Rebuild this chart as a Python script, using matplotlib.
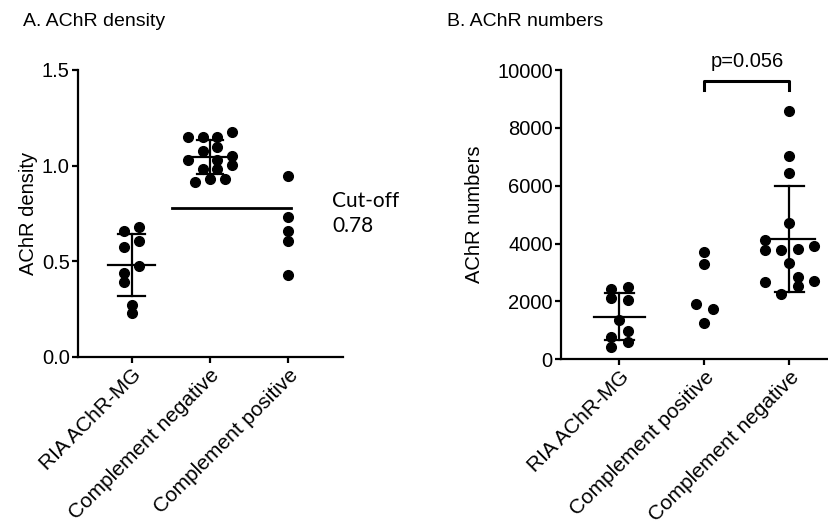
import matplotlib.pyplot as plt
import numpy as np

plt.rcParams['font.family'] = ['Liberation Sans', 'DejaVu Sans']

# panel A: AChR density
density_labels = ["RIA AChR-MG", "Complement negative", "Complement positive"]
density_ria = [0.659, 0.681, 0.577, 0.608, 0.441, 0.476, 0.391, 0.272, 0.228]
density_ria_col = [-1, 1, -1, 1, -1, 1, -1, 0, 0]
density_neg = [1.152, 1.152, 1.152, 1.178, 1.078, 1.099, 1.030, 1.030, 1.051,
               0.981, 0.981, 1.004, 0.913, 0.929, 0.929]
density_neg_col = [-3, -1, 1, 3, -1, 1, -3, 1, 3, -1, 1, 3, -2, 0, 2]
density_pos = [0.948, 0.730, 0.659, 0.608, 0.429]
density_pos_col = [0, 0, 0, 0, 0]
cutoff = 0.78

# panel B: AChR numbers
numbers_labels = ["RIA AChR-MG", "Complement positive", "Complement negative"]
numbers_ria = [2422, 2491, 2111, 2052, 1360, 990, 761, 609, 415]
numbers_ria_col = [-1, 1, -1, 1, 0, 1, -1, 1, -1]
numbers_pos = [3723, 3298, 1913, 1730, 1266]
numbers_pos_col = [0, 0, -1, 1, 0]
numbers_neg = [8568, 7011, 6457, 4727, 4128, 3782, 3782, 3806, 3931, 3322,
               2664, 2837, 2536, 2709, 2260]
numbers_neg_col = [0, 0, 0, 0, -3, -3, -1, 1, 3, 0, -3, 1, 1, 3, -1]

step = 0.095
fs = 14.5

fig = plt.figure(figsize=(8.29, 5.28), dpi=100)
ax1 = fig.add_axes([0.0941, 0.3239, 0.3197, 0.5436])
ax2 = fig.add_axes([0.6767, 0.3195, 0.3300, 0.5479])


def scatter_group(ax, pos, vals, cols, sd=True):
    xs = pos + np.array(cols) * step
    ax.plot(xs, vals, 'o', color='black', ms=7, clip_on=False, zorder=3)
    if sd:
        m = np.mean(vals)
        s = np.std(vals, ddof=1)
        ax.plot([pos - 0.3, pos + 0.3], [m, m], color='black', lw=1.6)
        ax.plot([pos, pos], [m - s, m + s], color='black', lw=1.6)
        for y in (m - s, m + s):
            ax.plot([pos - 0.17, pos + 0.17], [y, y], color='black', lw=1.6)


def style(ax, labels):
    for s in ('top', 'right'):
        ax.spines[s].set_visible(False)
    for s in ('left', 'bottom'):
        ax.spines[s].set_linewidth(1.6)
    ax.tick_params(direction='out', length=4, width=1.6, labelsize=fs, pad=2)
    ax.set_xticks([1, 2, 3])
    ax.set_xticklabels(labels, rotation=45, ha='right', rotation_mode='anchor',
                       fontsize=15)


scatter_group(ax1, 1, density_ria, density_ria_col)
scatter_group(ax1, 2, density_neg, density_neg_col)
scatter_group(ax1, 3, density_pos, density_pos_col, sd=False)
ax1.plot([1.52, 3.03], [cutoff, cutoff], color='black', lw=2)
ax1.set_xlim(0.314, 3.70)
ax1.set_ylim(0, 1.5)
ax1.set_yticks([0, 0.5, 1.0, 1.5])
ax1.set_yticklabels(['0.0', '0.5', '1.0', '1.5'])
style(ax1, density_labels)
ax1.set_ylabel("AChR density", fontsize=fs)
ax1.yaxis.set_label_coords(-0.15, 0.5)
ax1.text(3.56, 0.75, "Cut-off\n%.2f" % cutoff, fontsize=15, family='Lato',
         va='center', ha='left', linespacing=1.3)

scatter_group(ax2, 1, numbers_ria, numbers_ria_col)
scatter_group(ax2, 2, numbers_pos, numbers_pos_col, sd=False)
scatter_group(ax2, 3, numbers_neg, numbers_neg_col)
ax2.set_xlim(0.312, 3.53)
ax2.set_ylim(0, 10000)
ax2.set_yticks([0, 2000, 4000, 6000, 8000, 10000])
style(ax2, numbers_labels)
ax2.set_ylabel("AChR numbers", fontsize=fs)
ax2.yaxis.set_label_coords(-0.283, 0.5)
ax2.plot([2, 2, 3, 3], [9294, 9609, 9609, 9294], color='black', lw=2.2, clip_on=False)
ax2.text(2.5, 9950, "p=0.056", fontsize=fs, ha='center', va='bottom')

fig.text(23 / 829, 1 - 22 / 528, "A. AChR density", fontsize=14, va='center')
fig.text(447 / 829, 1 - 22 / 528, "B. AChR numbers", fontsize=14, va='center')

fig.savefig("out.png", dpi=100)
